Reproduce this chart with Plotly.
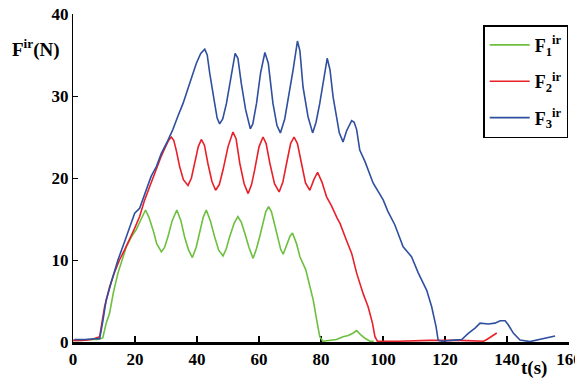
import plotly.graph_objects as go

# ---- data ----
green_t = [0, 2, 5, 8, 9.6, 10.7, 11.8, 13, 14.5, 16, 17.2, 18.8, 20.4, 22, 23.4, 24.5, 25.8, 27, 28.5, 29.5,
           30.6, 32, 33.5, 34.8, 36.0, 37.3, 38.5, 39.7, 40.9, 42, 43.0, 44.3, 45.7, 47, 48.4, 49.4, 50.5, 52,
           53.2, 54.3, 55.4, 56.8, 58.1, 59.2, 60.2, 61.3, 62.2, 63.1, 64.0, 64.8, 66.2, 67.0, 67.8, 69.1, 70.0,
           70.8, 72.1, 73.2, 75.1, 76.4, 77.5, 78.6, 79.6, 80.6, 83, 85, 87.1, 88.8, 90.4, 91.5, 92.5, 94.2, 95.8, 97]
green_f = [0.2, 0.2, 0.3, 0.3, 0.5, 2.3, 3.5, 6.0, 8.4, 10.2, 11.6, 12.8, 13.7, 15.0, 16.1, 15.2, 13.7, 12.0, 11.0, 11.5,
           12.8, 14.8, 16.1, 14.8, 12.8, 11.2, 10.3, 11.5, 13.3, 15.2, 16.1, 14.8, 12.8, 11.2, 10.5, 11.3, 12.8, 14.5,
           15.3, 14.6, 13.3, 11.5, 10.2, 11.4, 12.8, 14.7, 15.9, 16.5, 15.9, 14.7, 12.4, 11.3, 10.7, 12.0, 12.9,
           13.3, 12.0, 10.4, 8.8, 6.8, 5.1, 2.7, 0.65, 0.1, 0.2, 0.3, 0.65, 0.8, 1.1, 1.4, 1.0, 0.45, 0.1, 0.1]

red_t = [0, 3, 6, 8.6, 10.2, 11.8, 13.4, 15.0, 16.6, 18.2, 19.8, 21.5, 23.0, 24.7, 26.9, 28.3, 29.6, 30.7, 31.7, 32.5,
         33.3, 34.4, 35.6, 37.1, 38.2, 39.2, 40.4, 41.4, 42.4, 43.5, 44.8, 46.0, 47.2, 48.4, 50.0, 51.6, 52.6, 53.8,
         55.2, 56.5, 57.6, 58.6, 60.0, 61.3, 62.3, 63.5, 65.0, 66.5, 67.7, 68.9, 70.2, 71.3, 72.4, 73.7, 75.0, 76.4,
         77.7, 78.9, 80.3, 81.8, 83.4, 85.2, 86.1, 88.2, 89.9, 91.5, 93.6, 95.2, 96.6, 97.4, 98.2, 105, 115, 125,
         132.4, 133.5, 135.1, 136.7]
red_f = [0.2, 0.2, 0.3, 0.65, 4.3, 6.7, 8.5, 10.0, 11.2, 12.4, 13.8, 15.3, 17.2, 18.9, 21.2, 22.5, 23.6, 24.5, 25.0, 24.6,
         23.4, 21.4, 19.8, 19.1, 20.0, 21.8, 23.8, 24.7, 24.0, 21.8, 19.6, 18.5, 19.2, 21.0, 23.8, 25.6, 24.8, 21.8,
         19.3, 18.1, 19.2, 21.0, 23.8, 25.0, 24.2, 21.8, 19.3, 18.3, 19.5, 21.8, 24.2, 25.0, 24.2, 21.8, 19.4, 18.5,
         19.8, 20.7, 19.5, 17.7, 16.6, 15.1, 14.5, 12.4, 10.8, 8.4, 5.9, 4.3, 2.3, 0.65, 0.1, 0.1, 0.2, 0.2,
         0.1, 0.3, 0.65, 1.1]

blue_t = [0.5, 4, 7, 8.6, 9.6, 10.7, 12.5, 14.5, 16.6, 18.3, 19.9, 21.5, 23.5, 25.2, 26.9, 28.5, 30.5, 32.2, 33.8, 35.5,
          37.6, 39.8, 41.2, 42.5, 43.3, 44.1, 45.7, 46.5, 47.3, 48.3, 49.5, 51.1, 52.3, 53.2, 54.3, 55.7, 57.2, 58.0,
          59.2, 60.5, 61.9, 63.0, 64.5, 65.8, 66.9, 68.3, 69.9, 71.0, 72.4, 73.2, 74.2, 75.8, 77.3, 78.4, 79.6, 81.0,
          82.0, 82.9, 83.9, 85.9, 87.1, 88.3, 89.9, 90.7, 91.5, 92.5, 94.2, 96.8, 98.5, 100.1, 101.5, 103.8, 106.5,
          109.2, 111.4, 114.1, 115.7, 117.1, 117.8, 119, 122, 125.4, 127.5, 129.7, 131.3, 134, 136.1, 137.8, 139.4,
          140.4, 142.1, 144.2, 147.4, 149.6, 151.7, 153.5, 155.5]
blue_f = [0.3, 0.3, 0.4, 0.4, 2.5, 5.1, 7.5, 10.0, 12.2, 14.0, 15.7, 16.3, 18.5, 20.2, 21.4, 23.0, 24.5, 25.9, 27.5, 29.1,
          31.5, 34.0, 35.2, 35.7, 35.0, 32.8, 29.1, 27.3, 26.6, 27.2, 29.1, 32.8, 35.2, 34.6, 31.5, 28.3, 26.0, 26.6,
          29.1, 32.8, 35.3, 34.0, 29.1, 26.4, 25.5, 27.2, 30.5, 33.2, 36.7, 35.5, 31.1, 27.5, 25.5, 26.8, 29.1, 32.5,
          34.6, 33.2, 29.9, 25.5, 24.4, 25.8, 27.0, 26.8, 25.9, 23.4, 22.0, 19.4, 18.3, 17.3, 16.0, 14.3, 11.6,
          10.4, 8.4, 6.3, 4.3, 1.9, 0.2, 0.1, 0.2, 0.3, 1.06, 1.7, 2.3, 2.2, 2.3, 2.6, 2.6,
          2.1, 1.06, 0.25, 0.05, 0.25, 0.45, 0.6, 0.73]

assert len(green_t) == len(green_f)
assert len(red_t) == len(red_f)
assert len(blue_t) == len(blue_f)

x_ticks = [0, 20, 40, 60, 80, 100, 120, 140, 160]
y_ticks = [0, 10, 20, 30, 40]

series = [
    ("F<sub>1</sub><sup>ir</sup>", green_t, green_f, "#6cbf3f"),
    ("F<sub>2</sub><sup>ir</sup>", red_t, red_f, "#e8202a"),
    ("F<sub>3</sub><sup>ir</sup>", blue_t, blue_f, "#2f4f9f"),
]

FONT = "Liberation Serif"

fig = go.Figure()
for i, (name, t, f, c) in enumerate(series):
    fig.add_trace(go.Scatter(x=t, y=f, mode="lines", name=name, legendgroup=f"g{i}",
                             line=dict(color=c, width=1.6)))

# page body has an 8px default margin: size figure so it fits the 583x381 window
fig.update_layout(
    width=575, height=373,
    margin=dict(l=65, r=14, t=6, b=39, autoexpand=False),
    paper_bgcolor="white", plot_bgcolor="white",
    font=dict(family=FONT, color="black", size=16, weight="bold"),
    showlegend=True,
    legend=dict(x=0.827, y=0.966, xanchor="left", yanchor="top",
                bordercolor="black", borderwidth=1.5, bgcolor="white",
                tracegroupgap=10, font=dict(family=FONT, size=18, weight="bold"),
                itemwidth=40),
    xaxis=dict(range=[0, 160], tickvals=x_ticks, showgrid=False, zeroline=False,
               showline=True, linecolor="black", linewidth=3, ticks="inside",
               ticklen=6, tickwidth=1.5, tickcolor="black", layer="below traces",
               automargin=False, ticklabeloverflow="allow",
               tickfont=dict(family=FONT, size=17, weight="bold")),
    yaxis=dict(range=[0, 40], tickvals=y_ticks, showgrid=False, zeroline=False,
               showline=True, linecolor="black", linewidth=1.2, ticks="inside",
               ticklen=5, tickwidth=1.2, tickcolor="black", layer="below traces",
               automargin=False, ticklabeloverflow="allow",
               tickfont=dict(family=FONT, size=17, weight="bold")),
    annotations=[
        dict(text="F<sup>ir</sup>(N)", xref="paper", yref="paper", x=-0.127, y=0.896,
             xanchor="left", yanchor="middle", showarrow=False,
             font=dict(family=FONT, size=19, weight="bold")),
        dict(text="t(s)", xref="paper", yref="paper", x=0.899, y=-0.079,
             xanchor="left", yanchor="middle", showarrow=False,
             font=dict(family=FONT, size=19, weight="bold")),
    ],
)

fig.write_html("out.html")
